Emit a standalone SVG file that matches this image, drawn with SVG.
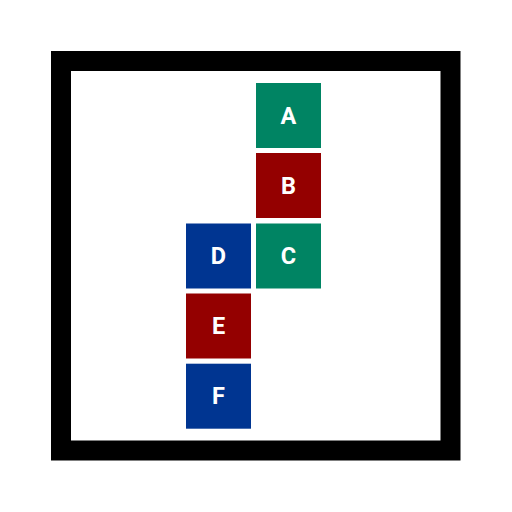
<svg xmlns="http://www.w3.org/2000/svg" width="512" height="512" viewBox="0 0 512 512">
<style>
.g{fill:#008463}.r{fill:#940000}.b{fill:#003591}
text{font-family:Roboto,"Liberation Sans",sans-serif;font-weight:bold;font-size:23.5px;fill:#fff;text-anchor:middle;dominant-baseline:central}
</style>
<rect x="0" y="0" width="512" height="512" fill="#fff"/>
<rect id="frame" x="61" y="61" width="389.5" height="389.5" fill="none" stroke="#000" stroke-width="20"/>
<g id="connectors"/>
<g id="A"><rect class="g" x="256" y="83" width="65" height="65"/><text x="288.5" y="115.5">A</text></g>
<g id="B"><rect class="r" x="256" y="153" width="65" height="65"/><text x="288.5" y="185.5">B</text></g>
<g id="C"><rect class="g" x="256" y="223.5" width="65" height="65"/><text x="288.5" y="256">C</text></g>
<g id="D"><rect class="b" x="186" y="223.5" width="65" height="65"/><text x="218.5" y="256">D</text></g>
<g id="E"><rect class="r" x="186" y="293.5" width="65" height="65"/><text x="218.5" y="326">E</text></g>
<g id="F"><rect class="b" x="186" y="363.7" width="65" height="65"/><text x="218.5" y="396.2">F</text></g>
</svg>
